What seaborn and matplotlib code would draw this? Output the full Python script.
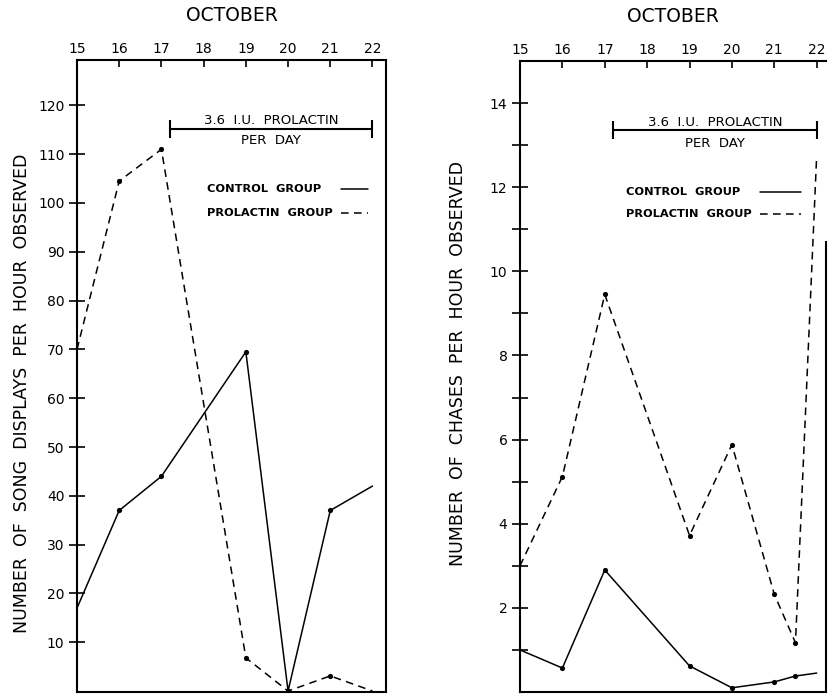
import matplotlib
matplotlib.use("Agg")
import matplotlib.pyplot as plt
from matplotlib.lines import Line2D
import seaborn as sns
import pandas as pd
import numpy as np

# ---------------- data ----------------
days_song = [15, 16, 17, 19, 20, 21, 22]
control_song = [17, 37, 44, 69.5, 0, 37, 42]
prolactin_song = [70, 104.5, 111, 6.8, 0, 3.1, 0]

days_chase = [15, 16, 17, 19, 20, 21, 21.5, 22]
control_chase = [1.0, 0.57, 2.9, 0.62, 0.1, 0.24, 0.38, 0.45]
prolactin_chase = [3.0, 5.12, 9.45, 3.72, 5.88, 2.32, 1.17, 12.75]

day_ticks = [15, 16, 17, 18, 19, 20, 21, 22]
song_ticks = [10, 20, 30, 40, 50, 60, 70, 80, 90, 100, 110, 120]
chase_major = [2, 4, 6, 8, 10, 12, 14]
chase_minor = [1, 3, 5, 7, 9, 11, 13]

groups = ["CONTROL  GROUP", "PROLACTIN  GROUP"]
treatment = (17.2, 22.0)
treat_text = ["3.6  I.U.  PROLACTIN", "PER  DAY"]
month = "OCTOBER"
ylab_song = "NUMBER  OF  SONG  DISPLAYS  PER  HOUR  OBSERVED"
ylab_chase = "NUMBER  OF  CHASES  PER  HOUR  OBSERVED"

DASH = (5, 3.5)
style_dashes = {groups[0]: "", groups[1]: DASH}

# ---------------- style ----------------
sns.set_theme(style="white")
plt.rcParams["font.family"] = ["DejaVu Sans"]
plt.rcParams["axes.linewidth"] = 1.5
plt.rcParams["axes.edgecolor"] = "black"
plt.rcParams["text.color"] = "black"
plt.rcParams["axes.labelcolor"] = "black"
plt.rcParams["xtick.color"] = "black"
plt.rcParams["ytick.color"] = "black"

W, H = 829, 694
fig = plt.figure(figsize=(W / 100, H / 100), dpi=100)
fig.patch.set_facecolor("white")


def make_df(days, ctrl, prol):
    return pd.DataFrame({
        "day": list(days) * 2,
        "value": list(ctrl) + list(prol),
        "group": [groups[0]] * len(days) + [groups[1]] * len(days),
    })


def panel(rect, df, xlim, ylim, yticks, ylabel, ylab_x, ylab_y,
          bar_y, cap, text_y, text2_y, leg_text_x, leg_line_x, leg_y,
          minor=None, rspine_top=None):
    ax = fig.add_axes(rect)
    sns.lineplot(data=df, x="day", y="value", style="group",
                 dashes=style_dashes, color="black", linewidth=1.1, ax=ax,
                 sort=False, estimator=None, legend=False)
    inner = df[(df["day"] > 15) & (df["day"] < 22)]
    sns.scatterplot(data=inner, x="day", y="value", color="black", s=14,
                    edgecolor="black", linewidth=0, ax=ax, legend=False,
                    zorder=3)
    ax.set_xlim(*xlim)
    ax.set_ylim(*ylim)
    # top x axis
    ax.xaxis.tick_top()
    ax.xaxis.set_label_position("top")
    ax.set_xticks(day_ticks)
    ax.set_xticklabels([str(d) for d in day_ticks])
    ax.tick_params(axis="x", which="both", direction="in", length=5, width=1.2,
                   labelsize=10, pad=3, colors="black", bottom=False, top=True)
    ax.set_xlabel(month, fontsize=13.5, labelpad=15, color="black")
    # y axis
    ax.set_yticks(yticks)
    ax.set_yticklabels([str(t) for t in yticks])
    if minor is not None:
        ax.set_yticks(minor, minor=True)
    ax.tick_params(axis="y", which="both", direction="inout", length=12,
                   width=1.2, labelsize=10, pad=3, colors="black", left=True)
    ax.set_ylabel(ylabel, fontsize=12.5, color="black")
    ax.yaxis.label.set_va("center")
    ax.yaxis.set_label_coords(ylab_x, ylab_y)
    for s in ax.spines.values():
        s.set_visible(True)
        s.set_color("black")
    if rspine_top is not None:
        ax.spines["right"].set_bounds(ylim[0], rspine_top)
    # treatment bar
    ax.hlines(bar_y, treatment[0], treatment[1], color="black", linewidth=1.5)
    ax.vlines([treatment[0], treatment[1]], bar_y - cap, bar_y + cap,
              color="black", linewidth=1.5)
    xm = (treatment[0] + treatment[1]) / 2
    ax.text(xm, text_y, treat_text[0], ha="center", va="center", fontsize=9.5,
            color="black")
    ax.text(xm, text2_y, treat_text[1], ha="center", va="center", fontsize=9.5,
            color="black")
    # legend: labels left-aligned, keys right of them (as in the original)
    for g, yy in zip(groups, leg_y):
        ax.text(leg_text_x, yy, g, transform=ax.transAxes, ha="left",
                va="center", fontsize=8.2, fontweight="bold", color="black")
        key = Line2D(leg_line_x, [yy, yy], transform=ax.transAxes,
                     color="black", linewidth=1.1)
        if style_dashes[g]:
            key.set_dashes(style_dashes[g])
        ax.add_line(key)
    return ax


# left panel: song displays
df_song = make_df(days_song, control_song, prolactin_song)
axL = panel([77 / W, 2 / H, 309 / W, 632 / H], df_song,
            (15, 22.32), (-0.2, 129.3), song_ticks, ylab_song,
            -0.178, 0.473, 115.2, 1.85, 117.0, 112.8,
            0.421, [0.854, 0.942], [0.796, 0.758])

# right panel: chases
df_chase = make_df(days_chase, control_chase, prolactin_chase)
axR = panel([520 / W, 2 / H, 306 / W, 631 / H], df_chase,
            (15, 22.22), (0, 15.0), chase_major, ylab_chase,
            -0.203, 0.521, 13.36, 0.21, 13.53, 13.05,
            0.346, [0.784, 0.918], [0.792, 0.757],
            minor=chase_minor, rspine_top=10.7)

fig.savefig("out.png", dpi=100, facecolor="white")
